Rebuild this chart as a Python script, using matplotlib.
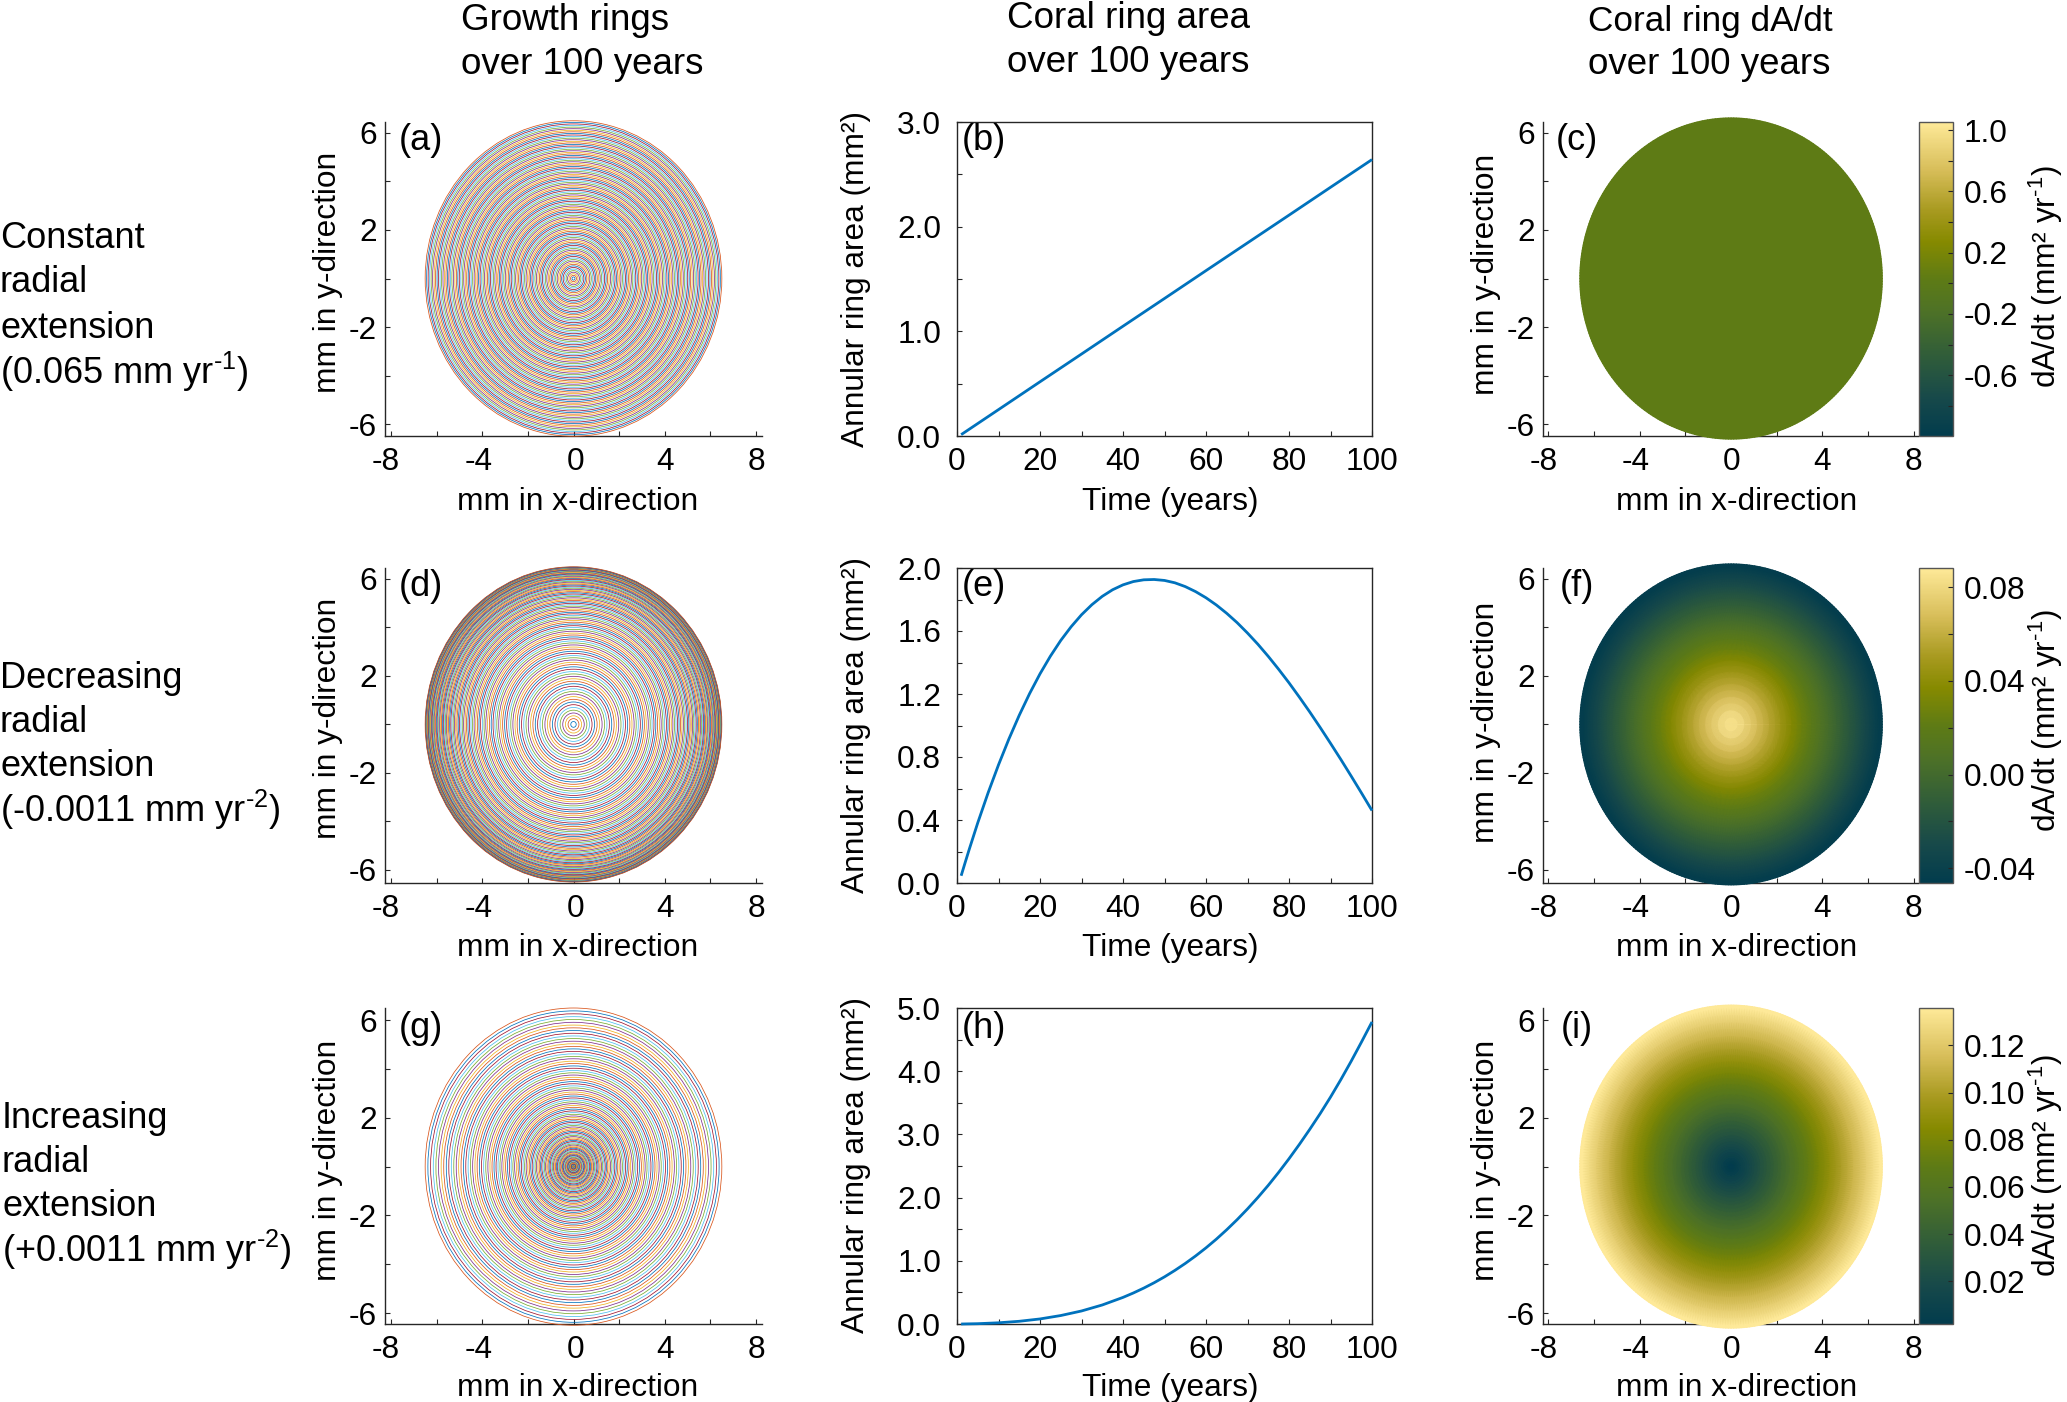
import numpy as np
import matplotlib
matplotlib.use("Agg")
import matplotlib.pyplot as plt
from matplotlib.colors import LinearSegmentedColormap
from matplotlib.patches import Circle
from matplotlib.transforms import ScaledTranslation

plt.rcParams['font.family'] = ['Liberation Sans', 'DejaVu Sans']
plt.rcParams['mathtext.fontset'] = 'custom'
plt.rcParams['mathtext.rm'] = 'Liberation Sans'
plt.rcParams['mathtext.default'] = 'regular'
plt.rcParams['axes.unicode_minus'] = False

# ring radii (mm), one per year
radii_const = [0.065, 0.130, 0.195, 0.260, 0.325, 0.390, 0.455, 0.520, 0.585, 0.650,
               0.715, 0.780, 0.845, 0.910, 0.975, 1.040, 1.105, 1.170, 1.235, 1.300,
               1.365, 1.430, 1.495, 1.560, 1.625, 1.690, 1.755, 1.820, 1.885, 1.950,
               2.015, 2.080, 2.145, 2.210, 2.275, 2.340, 2.405, 2.470, 2.535, 2.600,
               2.665, 2.730, 2.795, 2.860, 2.925, 2.990, 3.055, 3.120, 3.185, 3.250,
               3.315, 3.380, 3.445, 3.510, 3.575, 3.640, 3.705, 3.770, 3.835, 3.900,
               3.965, 4.030, 4.095, 4.160, 4.225, 4.290, 4.355, 4.420, 4.485, 4.550,
               4.615, 4.680, 4.745, 4.810, 4.875, 4.940, 5.005, 5.070, 5.135, 5.200,
               5.265, 5.330, 5.395, 5.460, 5.525, 5.590, 5.655, 5.720, 5.785, 5.850,
               5.915, 5.980, 6.045, 6.110, 6.175, 6.240, 6.305, 6.370, 6.435, 6.500]
radii_decr = [0.119, 0.238, 0.355, 0.471, 0.586, 0.700, 0.813, 0.925, 1.035, 1.145,
              1.253, 1.361, 1.467, 1.572, 1.676, 1.779, 1.881, 1.982, 2.081, 2.180,
              2.277, 2.374, 2.469, 2.563, 2.656, 2.748, 2.839, 2.929, 3.017, 3.105,
              3.191, 3.277, 3.361, 3.444, 3.526, 3.607, 3.687, 3.766, 3.843, 3.920,
              3.995, 4.070, 4.143, 4.215, 4.286, 4.356, 4.425, 4.493, 4.559, 4.625,
              4.689, 4.753, 4.815, 4.876, 4.936, 4.995, 5.053, 5.110, 5.165, 5.220,
              5.273, 5.326, 5.377, 5.427, 5.476, 5.524, 5.571, 5.617, 5.661, 5.705,
              5.747, 5.789, 5.829, 5.868, 5.906, 5.943, 5.979, 6.014, 6.047, 6.080,
              6.111, 6.142, 6.171, 6.199, 6.226, 6.252, 6.277, 6.301, 6.323, 6.345,
              6.365, 6.385, 6.403, 6.420, 6.436, 6.451, 6.465, 6.478, 6.489, 6.500]
radii_incr = [0.011, 0.022, 0.035, 0.049, 0.064, 0.080, 0.097, 0.115, 0.135, 0.155,
              0.177, 0.199, 0.223, 0.248, 0.274, 0.301, 0.329, 0.358, 0.389, 0.420,
              0.453, 0.486, 0.521, 0.557, 0.594, 0.632, 0.671, 0.711, 0.753, 0.795,
              0.839, 0.883, 0.929, 0.976, 1.024, 1.073, 1.123, 1.174, 1.227, 1.280,
              1.335, 1.390, 1.447, 1.505, 1.564, 1.624, 1.685, 1.747, 1.811, 1.875,
              1.941, 2.007, 2.075, 2.144, 2.214, 2.285, 2.357, 2.430, 2.505, 2.580,
              2.657, 2.734, 2.813, 2.893, 2.974, 3.056, 3.139, 3.223, 3.309, 3.395,
              3.483, 3.571, 3.661, 3.752, 3.844, 3.937, 4.031, 4.126, 4.223, 4.320,
              4.419, 4.518, 4.619, 4.721, 4.824, 4.928, 5.033, 5.139, 5.247, 5.355,
              5.465, 5.575, 5.687, 5.800, 5.914, 6.029, 6.145, 6.262, 6.381, 6.500]

# annular ring area curves
years_const = [1, 10, 20, 30, 40, 50, 60, 70, 80, 90, 100]
area_const = [0.013, 0.252, 0.518, 0.783, 1.049, 1.314, 1.580, 1.845, 2.110, 2.376, 2.641]
years_decr = [1, 2, 3, 5, 7.5, 10, 12.5, 15, 17.5, 20, 22.5, 25, 27.5, 30, 32.5, 35, 37.5, 40, 42.5, 45, 47.5,
              50, 52.5, 55, 57.5, 60, 62.5, 65, 67.5, 70, 72.5, 75, 77.5, 80, 82.5, 85, 87.5, 90, 92.5, 95, 97.5, 100]
area_decr = [0.046, 0.133, 0.218, 0.382, 0.573, 0.750, 0.914, 1.065, 1.203, 1.328, 1.440, 1.540, 1.627, 1.703,
             1.767, 1.820, 1.862, 1.893, 1.914, 1.925, 1.927, 1.921, 1.906, 1.882, 1.850, 1.811, 1.765, 1.712,
             1.653, 1.587, 1.516, 1.439, 1.357, 1.271, 1.180, 1.086, 0.988, 0.887, 0.784, 0.678, 0.570, 0.460]
years_incr = [1, 5, 10, 15, 20, 25, 30, 35, 40, 42.5, 45, 47.5, 50, 52.5, 55, 57.5, 60, 62.5, 65, 67.5, 70, 72.5,
              75, 77.5, 80, 82.5, 85, 87.5, 90, 92.5, 95, 97.5, 100]
area_incr = [0.000, 0.005, 0.019, 0.043, 0.080, 0.134, 0.206, 0.301, 0.421, 0.491, 0.568, 0.653, 0.746, 0.848,
             0.958, 1.077, 1.205, 1.343, 1.492, 1.651, 1.821, 2.002, 2.194, 2.399, 2.615, 2.842, 3.080, 3.328,
             3.590, 3.868, 4.160, 4.466, 4.780]

# dA/dt against radius
rate_r_const = [0.0, 6.62]
rate_const = [0.0265, 0.0265]
rate_r_decr = [0.0, 0.586, 1.145, 1.676, 2.18, 2.656, 3.105, 3.526, 3.92, 4.286, 4.625,
               4.936, 5.22, 5.476, 5.705, 5.906, 6.08, 6.226, 6.345, 6.436, 6.5, 6.62]
rate_decr = [0.0905, 0.0783, 0.0667, 0.0557, 0.0453, 0.0354, 0.0261, 0.0174, 0.0092, 0.0016, -0.0054,
             -0.0119, -0.0178, -0.0231, -0.0278, -0.0320, -0.0356, -0.0386, -0.0411, -0.0430, -0.0443, -0.0443]
rate_r_incr = [0.0, 0.064, 0.155, 0.274, 0.42, 0.594, 0.795, 1.024, 1.28, 1.564, 1.875,
               2.214, 2.58, 2.974, 3.395, 3.844, 4.32, 4.824, 5.355, 5.914, 6.5, 6.62]
rate_incr = [0.0006, 0.0020, 0.0038, 0.0063, 0.0093, 0.0129, 0.0171, 0.0219, 0.0272, 0.0331, 0.0395,
             0.0465, 0.0541, 0.0623, 0.0710, 0.0803, 0.0902, 0.1006, 0.1117, 0.1232, 0.1354, 0.1354]

titles = [("Growth rings", "over 100 years"), ("Coral ring area", "over 100 years"), ("Coral ring dA/dt", "over 100 years")]
row_labels = [("Constant", "radial", "extension", r"(0.065 mm yr$^{\text{-1}}$)"),
              ("Decreasing", "radial", "extension", r"(-0.0011 mm yr$^{\text{-2}}$)"),
              ("Increasing", "radial", "extension", r"(+0.0011 mm yr$^{\text{-2}}$)")]
ring_colors = ["#0072BD", "#D95319", "#EDB120", "#7E2F8E", "#77AC30", "#4DBEEE", "#A2142F"]
area_ticks = [[0.0, 1.0, 2.0, 3.0], [0.0, 0.4, 0.8, 1.2, 1.6, 2.0], [0.0, 1.0, 2.0, 3.0, 4.0, 5.0]]
area_minor = [[0.5, 1.5, 2.5], [0.2, 0.6, 1.0, 1.4, 1.8], [0.5, 1.5, 2.5, 3.5, 4.5]]
cb_ticks = [[-0.6, -0.2, 0.2, 0.6, 1.0], [-0.04, 0.0, 0.04, 0.08], [0.02, 0.04, 0.06, 0.08, 0.10, 0.12]]
cb_minor = [[-0.8, -0.4, 0.0, 0.4, 0.8], [-0.02, 0.02, 0.06], []]
cb_fmt = ["%.1f", "%.2f", "%.2f"]
cb_lims = [(-0.997, 1.053), (-0.0463, 0.0882), (0.0019, 0.1359)]

W, H = 2067, 1402
DARK = "#262626"
FS = 22.8
LETTER_FS = 26
fig = plt.figure(figsize=(W / 100, H / 100), dpi=100, facecolor="white")
cmap = LinearSegmentedColormap.from_list("coral", [(0, "#023C4D"), (0.12, "#17494A"), (0.25, "#2F5C3A"),
                                                   (0.4, "#4E7226"), (0.5, "#5E7B15"), (0.62, "#868A00"),
                                                   (0.72, "#A89A20"), (0.85, "#D8BE5A"), (1, "#FEE998")])


def px_axes(left, top, right, bottom):
    return fig.add_axes([left / W, 1 - bottom / H, (right - left) / W, (bottom - top) / H])


def fig_text(x, y, s, size=FS, ha="center"):
    fig.text(x / W, 1 - y / H, s, fontsize=size, ha=ha, va="center", color="black")


def labels(ax, xtext, xpos, ytext, ypos):
    ax.set_xlabel(xtext, fontsize=FS, ha="center", va="center")
    ax.set_ylabel(ytext, fontsize=FS, ha="center", va="center", rotation=90)
    ax.xaxis.set_label_coords(xpos[0] / W, 1 - xpos[1] / H, transform=fig.transFigure)
    ax.yaxis.set_label_coords(ypos[0] / W, 1 - ypos[1] / H, transform=fig.transFigure)


def style(ax, box=False):
    for side in ["left", "bottom", "top", "right"]:
        ax.spines[side].set_linewidth(1.0)
        ax.spines[side].set_color(DARK)
    if not box:
        ax.spines["top"].set_visible(False)
        ax.spines["right"].set_visible(False)
    ax.tick_params(which="both", direction="in", length=3.8, width=0.8, color=DARK, labelsize=FS, top=False, right=False)
    ax.tick_params(axis="x", which="major", pad=7.8)
    ax.tick_params(axis="y", which="major", pad=11.5 if box else 6)


def map_axes(ax, xlim, ylim, shifts):
    ax.set_xlim(*xlim)
    ax.set_ylim(*ylim)
    ax.set_xticks([-8, -4, 0, 4, 8], ["-8", "-4", "0", "4", "8"])
    ax.set_xticks([-6, -2, 2, 6], minor=True)
    ax.set_yticks([-6, -2, 2, 6], ["-6", "-2", "2", "6"])
    ax.set_yticks([-4, 0, 4], minor=True)
    # the reference has the negative labels pushed left of their ticks
    for lab, dx in zip(ax.get_xticklabels(), shifts):
        lab.set_transform(lab.get_transform() + ScaledTranslation(dx / 100, 0, fig.dpi_scale_trans))


row_tops = [122, 568, 1008]
row_bottoms = [436, 883, 1324]
row_ylims = [(-6.49, 6.45), (-6.54, 6.45), (-6.45, 6.5)]
ring_sets = [radii_const, radii_decr, radii_incr]
area_sets = [(years_const, area_const), (years_decr, area_decr), (years_incr, area_incr)]
rate_sets = [(rate_r_const, rate_const), (rate_r_decr, rate_decr), (rate_r_incr, rate_incr)]
letters = ["abc", "def", "ghi"]
letter_y = [141, 587, 1028]
xlab_y = [502, 948, 1388]
ylab_y = [[272, 279, 274], [718, 725, 722], [1160, 1165, 1160]]
cblab_y = [277, 721, 1166]
cb_unit = r"dA/dt (mm² yr$^{\text{-1}}$)"
theta = np.linspace(0, 2 * np.pi, 361)

for row in range(3):
    top, bottom = row_tops[row], row_bottoms[row]

    # rings
    ax = px_axes(385, top, 762, bottom)
    style(ax)
    map_axes(ax, (-8.26, 8.26), row_ylims[row], [-5, -4, 2, 0, 0])
    for i, r in enumerate(ring_sets[row]):
        ax.add_patch(Circle((0, 0), r, fill=False, ec=ring_colors[i % 7], lw=0.55, zorder=3, clip_on=False))
    labels(ax, "mm in x-direction", (578, xlab_y[row]), "mm in y-direction", (328, ylab_y[row][0]))
    fig_text(421, letter_y[row], "(%s)" % letters[row][0], LETTER_FS)

    # area curve
    ax = px_axes(957, top, 1372, bottom)
    style(ax, box=True)
    years, area = area_sets[row]
    ax.plot(years, area, color="#0072BD", lw=2.0, solid_capstyle="butt", clip_on=False, zorder=3)
    ax.set_xlim(0, 100)
    ax.set_ylim(area_ticks[row][0], area_ticks[row][-1])
    ax.set_xticks([0, 20, 40, 60, 80, 100], ["0", "20", "40", "60", "80", "100"])
    ax.set_xticks([10, 30, 50, 70, 90], minor=True)
    ax.set_yticks(area_ticks[row], ["%.1f" % v for v in area_ticks[row]])
    ax.set_yticks(area_minor[row], minor=True)
    labels(ax, "Time (years)", (1170, xlab_y[row]), "Annular ring area (mm²)", (856, ylab_y[row][1]))
    fig_text(984, letter_y[row], "(%s)" % letters[row][1], LETTER_FS)

    # dA/dt map and its colour bar
    ax = px_axes(1543, top, 1918, bottom)
    style(ax)
    map_axes(ax, (-8.23, 8.18), row_ylims[row], [-5, -4, 0, 0, 0])
    rr, values = rate_sets[row]
    mesh_r, mesh_t = np.meshgrid(rr, theta)
    colour = np.tile(values, (len(theta), 1))
    mesh = ax.pcolormesh(mesh_r * np.cos(mesh_t), mesh_r * np.sin(mesh_t), colour, shading="gouraud", cmap=cmap,
                         vmin=cb_lims[row][0], vmax=cb_lims[row][1], zorder=3, clip_on=False)
    labels(ax, "mm in x-direction", (1737, xlab_y[row]), "mm in y-direction", (1486, ylab_y[row][2]))
    fig_text(1577, letter_y[row], "(%s)" % letters[row][2], LETTER_FS)

    cax = px_axes(1919, top, 1953, bottom)
    cb = fig.colorbar(mesh, cax=cax)
    cb.set_ticks(cb_ticks[row], labels=[cb_fmt[row] % v for v in cb_ticks[row]])
    if cb_minor[row]:
        cb.set_ticks(cb_minor[row], minor=True)
    else:
        cb.ax.yaxis.set_minor_locator(plt.NullLocator())
    cb.outline.set_edgecolor("#555555")
    cb.outline.set_linewidth(1.0)
    cb.ax.tick_params(which="both", direction="in", length=3.8, width=0.8, color=DARK, labelsize=FS, pad=8)
    fig.text(2046 / W, 1 - cblab_y[row] / H, cb_unit, fontsize=FS, rotation=90, ha="center", va="center")

    # row caption on the far left
    line_y = top + (np.array([117, 161, 206, 250]) if row == 0 else np.array([110, 154, 198, 242]))
    for s, y in zip(row_labels[row], line_y):
        fig_text(0 if row < 2 else 2, y, s, 26, ha="left")

# column headings, left aligned in each pair
for s, x, (y1, y2), size1 in zip(titles, [461, 1007, 1588], [(20, 65), (18, 62), (21, 65)], [26.5, 26.5, 25.3]):
    fig_text(x, y1, s[0], size1, ha="left")
    fig_text(x, y2, s[1], 26.5, ha="left")

plt.savefig("out.png", dpi=100)
